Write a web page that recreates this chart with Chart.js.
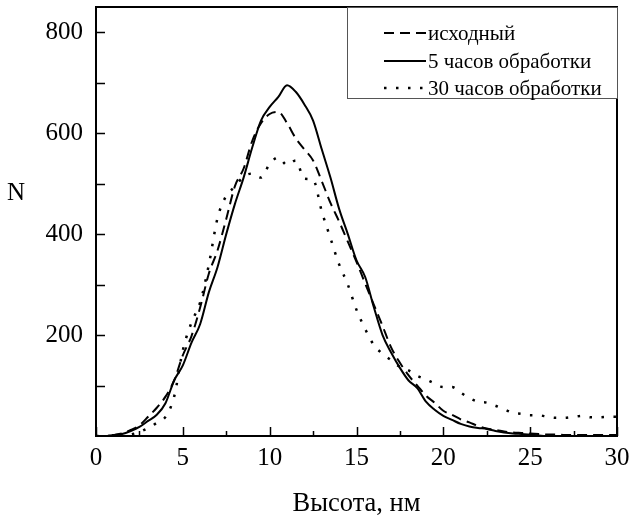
<!DOCTYPE html>
<html><head><meta charset="utf-8">
<script src="https://cdn.jsdelivr.net/npm/chart.js@4/dist/chart.umd.min.js"></script>
<style>html,body{margin:0;padding:0;background:#fff}#wrap{width:632px;height:520px}</style>
</head><body><div id="wrap"><canvas id="c" width="632" height="520"></canvas></div>
<script>
// Высота, нм (x)
const heightNm = [0,0.5,1,1.5,2,2.5,3,3.5,4,4.5,5,5.5,6,6.5,7,7.5,8,8.5,9,9.5,10,10.5,11,11.5,12,12.5,13,13.5,14,14.5,15,15.5,16,16.5,17,17.5,18,18.5,19,19.5,20,20.5,21,21.5,22,22.5,23,23.5,24,24.5,25,25.5,26,26.5,27,27.5,28,28.5,29,29.5,30];
// исходный
const seriesOriginal = [0,0,2,5,12,21,38,56,78,110, 160,198,255,322,368,430,495,530,585,620, 638,642,620,590,568,546,505,462,425,385, 345,302,260,218,175,145,120,100,80,66, 50,42,33,27,20,15,12,9,7,6, 5,4,3,3,2,2,2,2,2,2, 2];
// 5 часов обработки
const series5h = [0,0,2,4,10,18,30,42,65,110, 140,185,222,285,335,400,460,512,572,625, 652,672,695,682,657,625,568,512,450,400, 348,315,255,200,165,135,110,95,68,52, 40,32,24,19,16,14,10,7,5,4, 3,1,0,0,0,0,0,0,0,0, 0];
// 30 часов обработки
const series30h = [0,0,0,1,3,8,16,26,38,78, 170,225,265,340,432,476,494,514,520,512, 539,552,537,546,510,508,445,392,340,300, 250,212,180,163,150,137,130,119,112,104, 97,97,86,75,68,66,60,53,46,44, 41,41,38,36,36,38,40,37,37,38, 38];
const seriesLabels = ['исходный', '5 часов обработки', '30 часов обработки'];
const xTickValues = [0,5,10,15,20,25,30];
const yTickValues = [200,400,600,800];
const xTitle = 'Высота, нм';
const yTitle = 'N';

const FONT = "'Liberation Serif','Times New Roman','DejaVu Serif',serif";
const toXY = arr => arr.map((v, i) => ({x: heightNm[i], y: v}));
const noPad = s => { s.paddingTop = 0; s.paddingBottom = 0; s.paddingLeft = 0; s.paddingRight = 0; };

const framePlugin = {
  id: 'frame',
  afterDatasetsDraw(chart) {
    const ctx = chart.ctx, a = chart.chartArea;
    const xs = chart.scales.x, ys = chart.scales.y;
    ctx.save();
    ctx.strokeStyle = '#000';
    ctx.lineWidth = 2;
    ctx.strokeRect(a.left, a.top, a.right - a.left, a.bottom - a.top);
    ctx.lineWidth = 1.5;
    ctx.beginPath();
    for (let v = 0; v <= 30; v += 2.5) {
      const px = Math.round(xs.getPixelForValue(v)) + 0.5;
      const len = (v % 5 === 0) ? 9 : 5;
      ctx.moveTo(px, a.bottom); ctx.lineTo(px, a.bottom - len);
    }
    for (let v = 100; v <= 800; v += 100) {
      const py = Math.round(ys.getPixelForValue(v)) + 0.5;
      ctx.moveTo(a.left, py); ctx.lineTo(a.left + 9, py);
    }
    ctx.stroke();
    // y title (horizontal)
    ctx.fillStyle = '#000';
    ctx.font = '25px ' + FONT;
    ctx.textAlign = 'center';
    ctx.textBaseline = 'middle';
    ctx.fillText(yTitle, 16, 193);
    // legend
    const bx = 347, by = a.top, bw = a.right - 347, bh = 91;
    ctx.fillStyle = '#fff';
    ctx.fillRect(bx, by, bw, bh);
    ctx.strokeStyle = '#555';
    ctx.lineWidth = 1;
    ctx.strokeRect(bx + 0.5, by + 0.5, bw, bh);
    const rows = [33, 61, 88];
    chart.data.datasets.forEach((ds, i) => {
      const y = rows[i];
      ctx.save();
      ctx.strokeStyle = ds.borderColor;
      ctx.lineWidth = ds.borderWidth;
      ctx.setLineDash(ds.borderDash || []);
      ctx.beginPath();
      ctx.moveTo(384, y); ctx.lineTo(426, y);
      ctx.stroke();
      ctx.restore();
      ctx.fillStyle = '#000';
      ctx.font = '21px ' + FONT;
      ctx.textAlign = 'left';
      ctx.textBaseline = 'middle';
      ctx.fillText(ds.label, 428, y + 1);
    });
    ctx.restore();
  }
};

new Chart(document.getElementById('c'), {
  type: 'line',
  data: {
    datasets: [
      {label: seriesLabels[0], data: toXY(seriesOriginal), borderColor: '#000', borderWidth: 2, borderDash: [10, 6], pointRadius: 0, cubicInterpolationMode: 'monotone', fill: false},
      {label: seriesLabels[1], data: toXY(series5h), borderColor: '#000', borderWidth: 2, pointRadius: 0, cubicInterpolationMode: 'monotone', fill: false},
      {label: seriesLabels[2], data: toXY(series30h), borderColor: '#000', borderWidth: 2.5, borderDash: [2.5, 9.5], pointRadius: 0, cubicInterpolationMode: 'monotone', fill: false}
    ]
  },
  options: {
    responsive: false,
    animation: false,
    devicePixelRatio: 1,
    layout: {padding: {top: 7, right: 15, left: 0, bottom: 0}},
    plugins: {legend: {display: false}, tooltip: {enabled: false}},
    scales: {
      x: {
        type: 'linear', min: 0, max: 30,
        afterBuildTicks: s => { s.ticks = xTickValues.map(v => ({value: v})); },
        afterFit: s => { s.height = 84; noPad(s); },
        grid: {display: false, drawTicks: false},
        border: {display: false},
        ticks: {color: '#000', font: {family: FONT, size: 25}, padding: 7, maxRotation: 0},
        title: {display: true, text: xTitle, color: '#000', font: {family: FONT, size: 26.5}, padding: {top: 0, bottom: 0}}
      },
      y: {
        type: 'linear', min: 0, max: 850,
        afterBuildTicks: s => { s.ticks = yTickValues.map(v => ({value: v})); },
        afterFit: s => { s.width = 96; noPad(s); },
        grid: {display: false, drawTicks: false},
        border: {display: false},
        ticks: {color: '#000', font: {family: FONT, size: 25}, padding: 13}
      }
    }
  },
  plugins: [framePlugin]
});
</script></body></html>
